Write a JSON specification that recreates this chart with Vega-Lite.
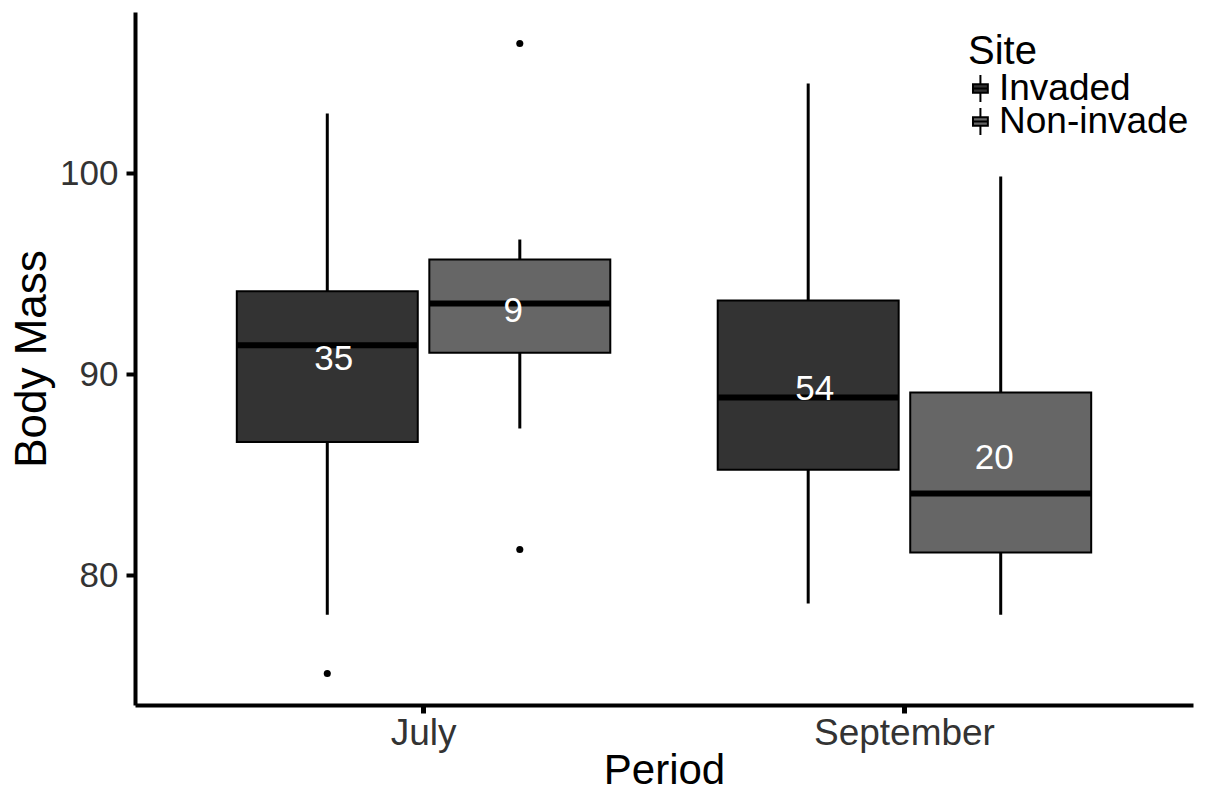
{
  "$schema": "https://vega.github.io/schema/vega-lite/v6.json",
  "autosize": {"type": "none"},
  "padding": {"left": 135, "top": 12, "right": 18, "bottom": 86},
  "width": 1058,
  "height": 693,
  "background": "white",
  "config": {"view": {"stroke": null}, "font": "Liberation Sans", "axis": {"grid": false}},
  "datasets": {
    "boxes": [
      {"Period": "July", "Site": "Invaded", "lower": 78.03, "q1": 86.63, "median": 91.44, "q3": 94.13, "upper": 102.98, "n": "35", "labelpos": 90.76},
      {"Period": "July", "Site": "Non-invade", "lower": 87.3, "q1": 91.07, "median": 93.52, "q3": 95.71, "upper": 96.71, "n": "9", "labelpos": 93.15},
      {"Period": "September", "Site": "Invaded", "lower": 78.58, "q1": 85.25, "median": 88.84, "q3": 93.67, "upper": 104.48, "n": "54", "labelpos": 89.29},
      {"Period": "September", "Site": "Non-invade", "lower": 78.03, "q1": 81.12, "median": 84.06, "q3": 89.09, "upper": 99.85, "n": "20", "labelpos": 85.82}
    ],
    "outliers": [
      {"Period": "July", "Site": "Invaded", "value": 75.1},
      {"Period": "July", "Site": "Non-invade", "value": 106.47},
      {"Period": "July", "Site": "Non-invade", "value": 81.27}
    ]
  },
  "encoding": {
    "x": {
      "field": "Period", "type": "nominal",
      "scale": {"domain": ["July", "September"], "paddingInner": 0, "paddingOuter": 0.1},
      "axis": {
        "title": "Period", "labelAngle": 0, "labelFontSize": 37, "labelColor": "#333333", "labelLimit": 400,
        "tickSize": 8, "tickWidth": 5, "tickColor": "black", "domainWidth": 4, "domainColor": "black",
        "labelPadding": 2, "titleFontSize": 42, "titleFontWeight": "normal", "titleColor": "black", "titlePadding": -1
      }
    },
    "xOffset": {
      "field": "Site", "type": "nominal",
      "scale": {"domain": ["Invaded", "Non-invade"], "paddingInner": 0.06, "paddingOuter": 0.279}
    }
  },
  "layer": [
    {
      "data": {"name": "boxes"},
      "mark": {"type": "rule", "color": "black", "strokeWidth": 3, "opacity": 1},
      "encoding": {
        "y": {
          "field": "lower", "type": "quantitative",
          "scale": {"domain": [73.53, 108.04], "nice": false, "zero": false},
          "axis": {
            "values": [80, 90, 100], "title": "Body Mass", "titleFontSize": 44, "titleFontWeight": "normal",
            "titleColor": "black", "labelFontSize": 35, "labelColor": "#333333", "tickSize": 9, "tickWidth": 4,
            "tickColor": "black", "domainColor": "black", "domainWidth": 4, "labelPadding": 8, "titlePadding": 5
          }
        },
        "y2": {"field": "upper"}
      }
    },
    {
      "data": {"name": "boxes"},
      "mark": {"type": "bar", "stroke": "black", "strokeWidth": 2, "opacity": 1},
      "encoding": {
        "y": {"field": "q1", "type": "quantitative", "scale": {"domain": [73.53, 108.04], "nice": false, "zero": false}},
        "y2": {"field": "q3"},
        "fill": {
          "field": "Site", "type": "nominal",
          "scale": {"domain": ["Invaded", "Non-invade"], "range": ["#333333", "#666666"]},
          "legend": {
            "orient": "none", "legendX": 833, "legendY": 20, "title": "Site",
            "titleFontSize": 40, "titleFontWeight": "normal", "titleColor": "black", "titlePadding": 2,
            "labelFontSize": 37, "labelColor": "black", "labelOffset": -6, "labelLimit": 400,
            "symbolType": "M-1,-0.32H0.1V0.32H-1Z M-1,0H0.1 M-0.45,-0.32V-1 M-0.45,0.32V1",
            "symbolSize": 729, "symbolStrokeColor": "black", "symbolStrokeWidth": 2, "symbolOpacity": 1,
            "rowPadding": -12, "clipHeight": 29
          }
        }
      }
    },
    {
      "data": {"name": "boxes"},
      "mark": {"type": "tick", "color": "black", "thickness": 6, "size": 181, "opacity": 1},
      "encoding": {
        "y": {"field": "median", "type": "quantitative", "scale": {"domain": [73.53, 108.04], "nice": false, "zero": false}}
      }
    },
    {
      "data": {"name": "outliers"},
      "mark": {"type": "point", "filled": true, "color": "black", "size": 50, "opacity": 1},
      "encoding": {
        "y": {"field": "value", "type": "quantitative", "scale": {"domain": [73.53, 108.04], "nice": false, "zero": false}}
      }
    },
    {
      "data": {"name": "boxes"},
      "transform": [{"filter": "datum.Site === 'Invaded'"}],
      "mark": {"type": "text", "color": "white", "fontSize": 35, "baseline": "middle", "align": "center", "dx": 6.5},
      "encoding": {
        "y": {"field": "labelpos", "type": "quantitative", "scale": {"domain": [73.53, 108.04], "nice": false, "zero": false}},
        "text": {"field": "n"}
      }
    },
    {
      "data": {"name": "boxes"},
      "transform": [{"filter": "datum.Site === 'Non-invade'"}],
      "mark": {"type": "text", "color": "white", "fontSize": 35, "baseline": "middle", "align": "center", "dx": -6.5},
      "encoding": {
        "y": {"field": "labelpos", "type": "quantitative", "scale": {"domain": [73.53, 108.04], "nice": false, "zero": false}},
        "text": {"field": "n"}
      }
    }
  ]
}
